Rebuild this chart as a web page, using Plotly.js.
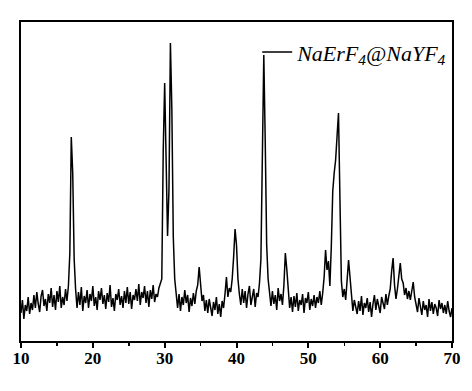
<!DOCTYPE html>
<html>
<head>
<meta charset="utf-8">
<script src="https://cdn.plot.ly/plotly-3.0.1.min.js"></script>
<style>html,body{margin:0;padding:0;background:#fff;}#chart{width:472px;height:391px;}</style>
</head>
<body>
<div id="chart"></div>
<script>
// 2-theta grid: start 10 deg, step 0.2 deg
var twoThetaStart = 10;
var twoThetaStep = 0.2;
// Intensity (a.u.), one value per 0.2 deg from 10.0 to 70.0
var intensity = [
  28, 41, 22, 36, 30,      // 10
  44, 27, 38, 31, 46,      // 11
  33, 49, 37, 29, 45,      // 12
  51, 35, 42, 30, 47,      // 13
  38, 53, 34, 46, 31,      // 14
  50, 39, 55, 33, 44,      // 15
  36, 52, 40, 55, 88,      // 16
  204, 168, 82, 52, 33,    // 17
  49, 36, 54, 30, 45,      // 18
  38, 51, 33, 47, 40,      // 19
  55, 35, 44, 31, 50,      // 20
  41, 53, 37, 46, 32,      // 21
  48, 39, 56, 34, 43,      // 22
  30, 47, 41, 52, 36,      // 23
  45, 33, 50, 38, 54,      // 24
  37, 49, 32, 46, 41,      // 25
  52, 40, 57, 36, 49,      // 26
  43, 55, 38, 50, 34,      // 27
  51, 42, 56, 39, 47,      // 28
  44, 53, 58, 62, 190,     // 29
  258, 182, 105, 152, 298, // 30
  232, 104, 62, 45, 33,    // 31
  47, 30, 44, 36, 51,      // 32
  38, 46, 29, 43, 35,      // 33
  48, 37, 50, 56, 74,      // 34
  57, 40, 46, 30, 41,      // 35
  28, 42, 33, 25, 39,      // 36
  31, 44, 27, 37, 24,      // 37
  40, 33, 47, 64, 44,      // 38
  53, 49, 62, 84, 112,     // 39
  96, 62, 47, 36, 52,      // 40
  38, 50, 33, 47, 55,      // 41
  36, 45, 52, 34, 48,      // 42
  44, 58, 82, 176, 286,    // 43
  200, 96, 62, 48, 35,     // 44
  50, 37, 46, 31, 53,      // 45
  40, 47, 36, 56, 88,      // 46
  72, 48, 33, 44, 29,      // 47
  45, 34, 48, 30, 41,      // 48
  36, 47, 28, 43, 38,      // 49
  49, 31, 42, 35, 46,      // 50
  33, 44, 38, 50, 36,      // 51
  48, 64, 91, 71, 80,      // 52
  55, 95, 150, 168, 181,   // 53
  205, 228, 142, 60, 44,   // 54
  52, 41, 60, 81, 64,      // 55
  44, 30, 41, 34, 27,      // 56
  40, 30, 45, 26, 38,      // 57
  33, 43, 29, 39, 24,      // 58
  37, 46, 31, 42, 35,      // 59
  28, 44, 38, 32, 47,      // 60
  36, 45, 52, 70, 83,      // 61
  56, 42, 52, 68, 78,      // 62
  62, 58, 46, 53, 42,      // 63
  50, 41, 52, 59, 44,      // 64
  38, 29, 43, 33, 26,      // 65
  40, 31, 36, 24, 42,      // 66
  30, 39, 27, 37, 33,      // 67
  25, 41, 32, 38, 28,      // 68
  36, 27, 40, 30, 24,      // 69
  33                       // 70
];
var seriesName = 'NaErF<sub>4</sub>@NaYF<sub>4</sub>';
var xTickValues = [10, 20, 30, 40, 50, 60, 70];
var xTickLabels = ['10', '20', '30', '40', '50', '60', '70'];

var serif = 'Liberation Serif';

var trace = {
  type: 'scatter',
  mode: 'lines',
  x0: twoThetaStart,
  dx: twoThetaStep,
  y: intensity,
  name: seriesName,
  line: {color: '#000000', width: 1.5},
  hoverinfo: 'x+y'
};

var layout = {
  width: 472,
  height: 391,
  margin: {l: 21, r: 20, t: 22, b: 50, pad: 0},
  paper_bgcolor: '#ffffff',
  plot_bgcolor: '#ffffff',
  font: {family: serif, color: '#000000'},
  showlegend: true,
  legend: {
    x: 0.548, xanchor: 'left',
    y: 0.905, yanchor: 'middle',
    bgcolor: 'rgba(0,0,0,0)',
    borderwidth: 0,
    font: {family: serif, size: 22, style: 'italic', color: '#000000'}
  },
  xaxis: {
    range: [10, 70],
    tickmode: 'array',
    tickvals: xTickValues,
    ticktext: xTickLabels,
    ticks: 'outside',
    ticklen: 5,
    tickwidth: 2,
    tickcolor: '#000000',
    ticklabelstandoff: -4,
    minor: {dtick: 5, ticks: 'outside', ticklen: 3, tickwidth: 1.5, tickcolor: '#000000', showgrid: false},
    showline: true,
    linewidth: 2,
    linecolor: '#000000',
    mirror: true,
    showgrid: false,
    zeroline: false,
    tickfont: {family: serif, size: 17, weight: 'bold', color: '#000000'}
  },
  yaxis: {
    range: [0, 319],
    showticklabels: false,
    ticks: '',
    showline: true,
    linewidth: 2,
    linecolor: '#000000',
    mirror: true,
    showgrid: false,
    zeroline: false
  }
};

Plotly.newPlot('chart', [trace], layout, {displayModeBar: false, staticPlot: true});
</script>
</body>
</html>
